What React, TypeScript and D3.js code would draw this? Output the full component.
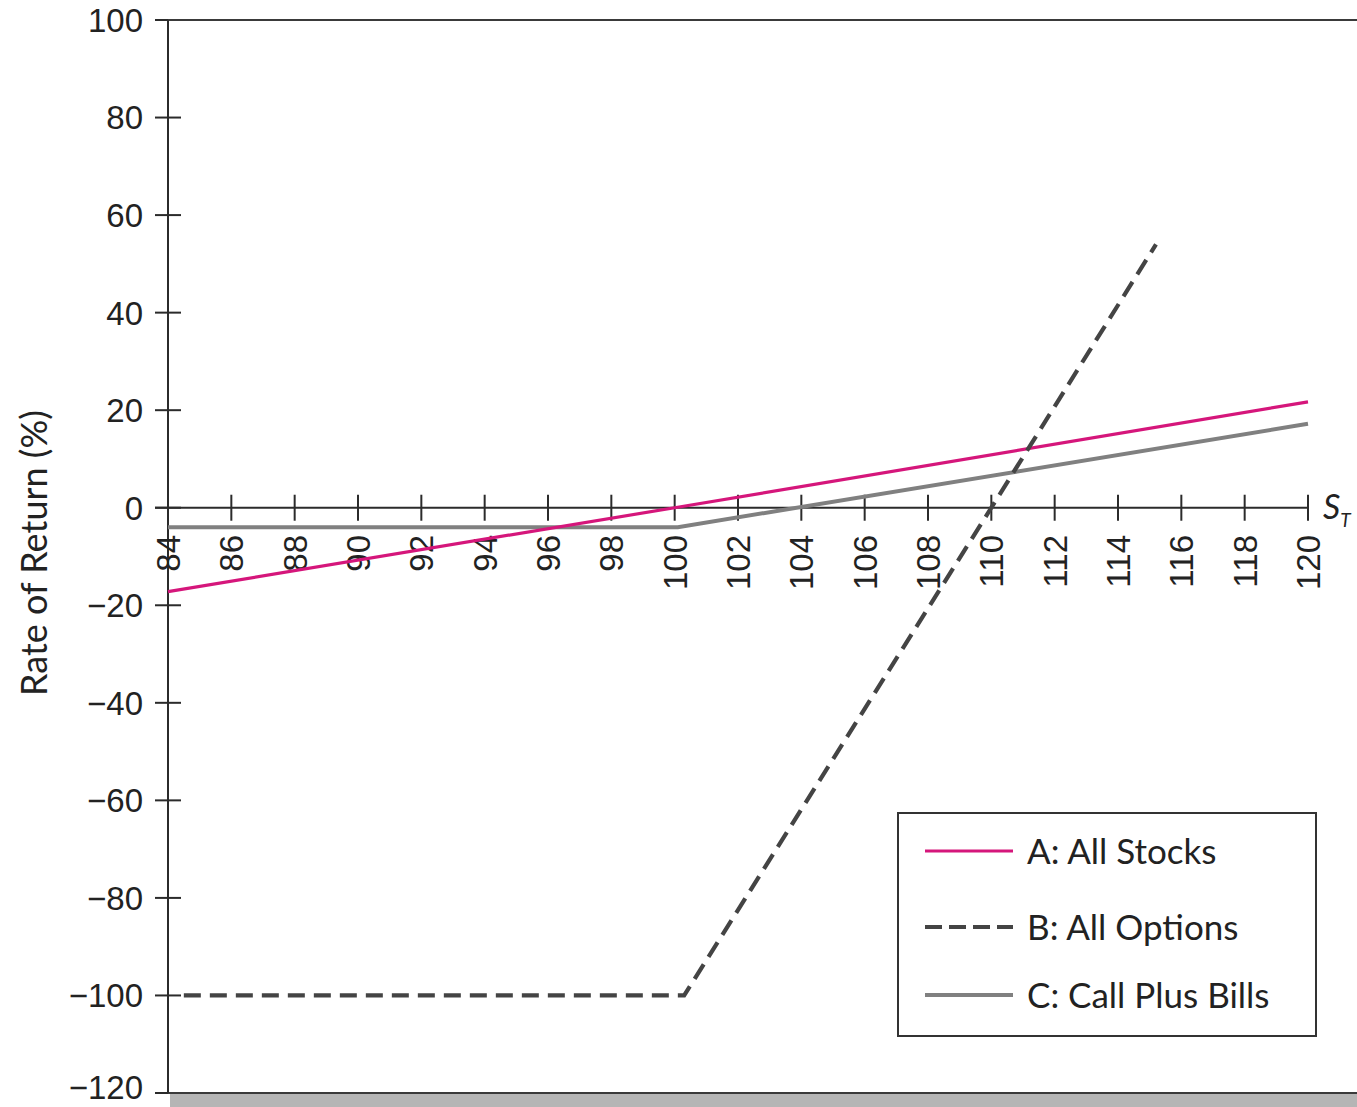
import React, { useEffect, useRef } from 'react';
import * as d3 from 'd3';

// Tick values
const xTickValues = [84, 86, 88, 90, 92, 94, 96, 98, 100, 102, 104, 106, 108, 110, 112, 114, 116, 118, 120];
const yTickValues = [100, 80, 60, 40, 20, 0, -20, -40, -60, -80, -100, -120];

// Series (stock price at expiry -> rate of return %)
const stocksX = [84, 100, 120];
const stocksY = [-17.2, 0, 21.7];

const optionsX = [84.5, 100.3, 110, 115.2];
const optionsY = [-100, -100, 0, 54];

const billsX = [84, 100.1, 120];
const billsY = [-4, -4, 17.2];

const legendLabels = ['A: All Stocks', 'B: All Options', 'C: Call Plus Bills'];

interface Pt { x: number; y: number; }

const toPoints = (xs: number[], ys: number[]): Pt[] => xs.map((x, i) => ({ x, y: ys[i] }));

const W = 1357;
const H = 1107;

const App: React.FC = () => {
  const svgRef = useRef<SVGSVGElement>(null);

  useEffect(() => {
    if (!svgRef.current) return;
    const svg = d3.select(svgRef.current);
    svg.selectAll('*').remove();

    const tickFont = '"Liberation Sans", Arial, sans-serif';
    const textFont = 'Lato, "Open Sans", sans-serif';
    const axisColor = '#2b2b2b';

    const x = d3.scaleLinear().domain([84, 120]).range([168, 1308]);
    const y = d3.scaleLinear().domain([-120, 100]).range([1093, 20]);

    svg.append('rect').attr('width', W).attr('height', H).attr('fill', '#fff');

    // bottom shaded band
    svg.append('rect')
      .attr('x', x(84) + 2)
      .attr('y', y(-120))
      .attr('width', W - x(84))
      .attr('height', H - y(-120))
      .attr('fill', '#b5b5b5');

    // top frame line
    svg.append('line')
      .attr('x1', 155).attr('x2', W)
      .attr('y1', y(100)).attr('y2', y(100))
      .attr('stroke', '#3a3a3a').attr('stroke-width', 2.2);

    // bottom frame line
    svg.append('line')
      .attr('x1', 155).attr('x2', W)
      .attr('y1', y(-120)).attr('y2', y(-120))
      .attr('stroke', '#3a3a3a').attr('stroke-width', 2.2);

    // y axis line
    svg.append('line')
      .attr('x1', x(84)).attr('x2', x(84))
      .attr('y1', y(100)).attr('y2', y(-120))
      .attr('stroke', axisColor).attr('stroke-width', 2);

    // y ticks + labels
    yTickValues.forEach(v => {
      const edge = v === 100 || v === -120;
      svg.append('line')
        .attr('x1', 155).attr('x2', edge ? x(84) : 181)
        .attr('y1', y(v)).attr('y2', y(v))
        .attr('stroke', axisColor).attr('stroke-width', 2);
      svg.append('text')
        .attr('x', 143)
        .attr('y', y(v) - (v === -120 ? 6 : 0))
        .attr('dy', '0.36em')
        .attr('text-anchor', 'end')
        .style('font-family', tickFont)
        .style('font-size', '33px')
        .attr('fill', '#222')
        .text(v < 0 ? `\u2212${Math.abs(v)}` : `${v}`);
    });

    // x axis (at 0)
    svg.append('line')
      .attr('x1', 155).attr('x2', x(120))
      .attr('y1', y(0)).attr('y2', y(0))
      .attr('stroke', axisColor).attr('stroke-width', 2);

    xTickValues.forEach(v => {
      svg.append('line')
        .attr('x1', x(v)).attr('x2', x(v))
        .attr('y1', y(0) - 13).attr('y2', y(0) + 13)
        .attr('stroke', axisColor).attr('stroke-width', 2);
      svg.append('text')
        .attr('transform', `translate(${x(v)},535) rotate(-90)`)
        .attr('dy', '0.36em')
        .attr('text-anchor', 'end')
        .style('font-family', tickFont)
        .style('font-size', '33px')
        .attr('fill', '#222')
        .text(`${v}`);
    });

    // S_T label
    const st = svg.append('text')
      .attr('x', 1323)
      .attr('y', y(0) + 11)
      .style('font-family', textFont)
      .style('font-size', '34px')
      .attr('fill', '#222');
    st.append('tspan').style('font-style', 'italic').text('S');
    st.append('tspan')
      .attr('dy', 8)
      .style('font-style', 'italic')
      .style('font-size', '19px')
      .text('T');

    // y axis title
    svg.append('text')
      .attr('transform', `translate(34,${553}) rotate(-90)`)
      .attr('dy', '0.36em')
      .attr('text-anchor', 'middle')
      .style('font-family', textFont)
      .style('font-size', '36px')
      .attr('fill', '#222')
      .text('Rate of Return (%)');

    const line = d3.line<Pt>().x(d => x(d.x)).y(d => y(d.y));

    // C: Call plus bills
    svg.append('path')
      .datum(toPoints(billsX, billsY))
      .attr('fill', 'none')
      .attr('stroke', '#808080')
      .attr('stroke-width', 4)
      .attr('d', line);

    // A: All stocks
    svg.append('path')
      .datum(toPoints(stocksX, stocksY))
      .attr('fill', 'none')
      .attr('stroke', '#d5167b')
      .attr('stroke-width', 3.2)
      .attr('d', line);

    // B: All options
    svg.append('path')
      .datum(toPoints(optionsX, optionsY))
      .attr('fill', 'none')
      .attr('stroke', '#444')
      .attr('stroke-width', 4.2)
      .attr('stroke-dasharray', '17,9')
      .attr('d', line);

    // legend
    const legend = svg.append('g');
    legend.append('rect')
      .attr('x', 898).attr('y', 813)
      .attr('width', 418).attr('height', 223)
      .attr('fill', '#fff')
      .attr('stroke', '#333')
      .attr('stroke-width', 2);

    const legendStyles = [
      { color: '#d5167b', width: 3.2, dash: null as string | null },
      { color: '#444', width: 4.2, dash: '17,7' },
      { color: '#808080', width: 4, dash: null as string | null },
    ];
    const legendY = [851, 927, 995];

    legendLabels.forEach((label, i) => {
      const s = legendStyles[i];
      const ln = legend.append('line')
        .attr('x1', 925).attr('x2', 1013)
        .attr('y1', legendY[i]).attr('y2', legendY[i])
        .attr('stroke', s.color)
        .attr('stroke-width', s.width);
      if (s.dash) ln.attr('stroke-dasharray', s.dash);
      legend.append('text')
        .attr('x', 1027)
        .attr('y', legendY[i])
        .attr('dy', '0.36em')
        .style('font-family', textFont)
        .style('font-size', '35px')
        .attr('fill', '#222')
        .text(label);
    });
  }, []);

  return (
    <svg
      ref={svgRef}
      width={W}
      height={H}
      style={{ position: 'absolute', left: 0, top: 0, display: 'block' }}
    />
  );
};

export default App;
